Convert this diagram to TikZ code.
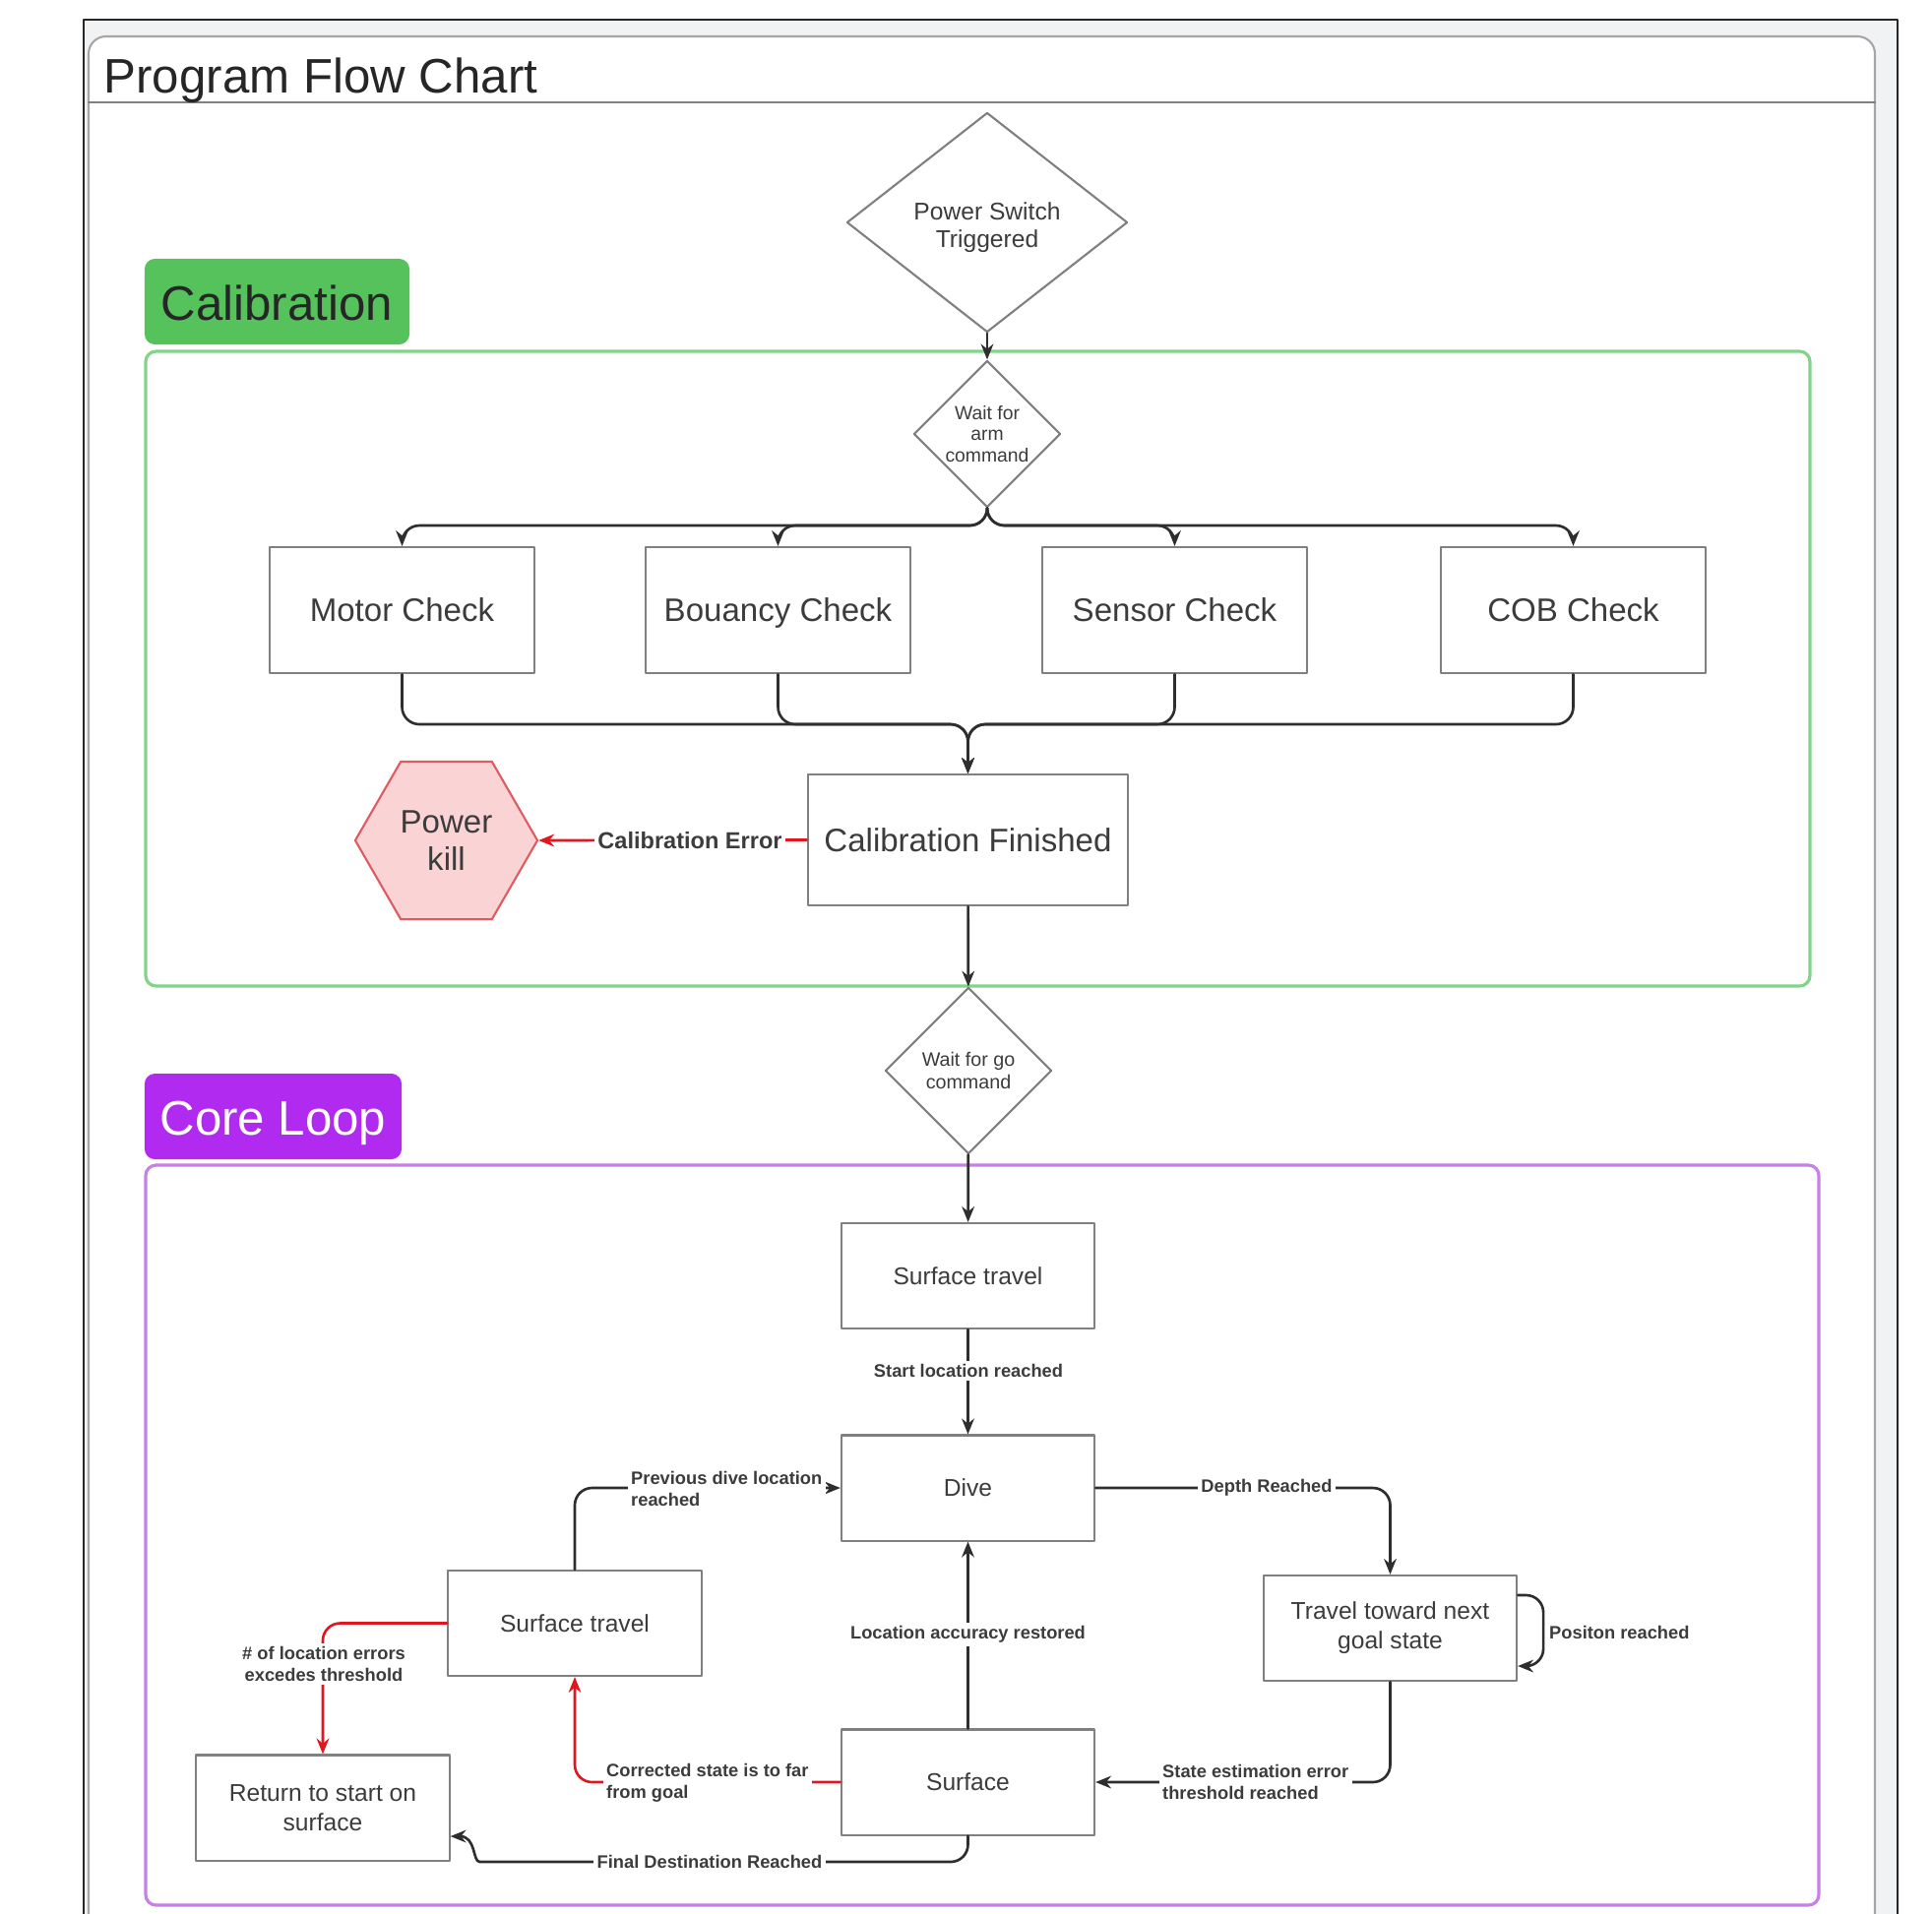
\documentclass[tikz,border=0pt]{standalone}
\usepackage{fontspec}
\setmainfont{Liberation Sans}
\usetikzlibrary{shapes.geometric,arrows.meta}
\definecolor{boxline}{HTML}{808080}
\definecolor{txtgray}{HTML}{3C3C3C}
\definecolor{linegray}{HTML}{2E2E2E}
\definecolor{calgreen}{HTML}{55C25C}
\definecolor{calline}{HTML}{82D488}
\definecolor{corepurple}{HTML}{B02AF0}
\definecolor{coreline}{HTML}{C680E6}
\definecolor{killfill}{HTML}{FAD3D5}
\definecolor{killline}{HTML}{E05A62}
\definecolor{errred}{HTML}{E3161F}
\definecolor{panelgray}{HTML}{F1F2F4}
\begin{document}
\begin{tikzpicture}[line cap=round,line join=round,>={Stealth[length=4.5pt,width=3.6pt]},x=0.01cm,y=-0.01cm,
		box/.style={rectangle,draw=boxline,line width=0.6pt,fill=white,text=txtgray,align=center,inner sep=1pt},
		calbox/.style={box,minimum width=2.69cm,minimum height=1.28cm,text height=8.8pt,text depth=2pt,font=\fontsize{9.4}{11}\selectfont},
		corebox/.style={box,minimum width=2.57cm,minimum height=1.07cm,font=\fontsize{7}{8.5}\selectfont},
		dia/.style={diamond,draw=boxline,line width=0.6pt,fill=white,text=txtgray,align=center,inner sep=0pt},
		tag/.style={rounded corners=3pt,inner sep=0pt,text height=14pt,text depth=3pt,font=\fontsize{14}{17}\selectfont},
		conn/.style={draw=linegray,line width=0.75pt,->,rounded corners=5pt},
		errconn/.style={conn,draw=errred},
		elabel/.style={fill=white,text=txtgray,inner sep=1pt,align=left,font=\fontsize{5.2}{6.2}\selectfont\bfseries}]
	\def\ySplit{534}
	\def\yMerge{736}
	\useasboundingbox (0,0) rectangle (1963,1944);
	\clip (0,0) rectangle (1963,1944);
	% Khung trang
	\fill[panelgray] (85,20) rectangle (1928,1990);
	\draw[black!85,line width=0.5pt] (85,1990) -- (85,20) -- (1928,20) -- (1928,1990);
	\draw[boxline!70,fill=white,line width=0.6pt,rounded corners=5pt] (90,2000) -- (90,37) -- (1905,37) -- (1905,2000);
	\draw[boxline,line width=0.6pt] (90,104) -- (1905,104);
	\node[anchor=west,inner sep=0pt,font=\fontsize{14}{17}\selectfont,text=black!85] (title) at (105,82) {Program Flow Chart};
	% Hai vùng nhóm và nhãn
	\draw[calline,line width=0.9pt,rounded corners=3pt] (148,357) rectangle (1839,1002);
	\draw[coreline,line width=0.9pt,rounded corners=3pt] (148,1184) rectangle (1848,1936);
	\node[tag,fill=calgreen,text=black!85,minimum width=2.69cm,minimum height=0.87cm] (calTag) at (281.5,306.5) {Calibration};
	\node[tag,fill=corepurple,text=white,minimum width=2.61cm,minimum height=0.87cm] (coreTag) at (277.5,1134.5) {Core Loop};
	% Calibration
	\node[dia,minimum width=2.85cm,minimum height=2.23cm,font=\fontsize{7}{7.9}\selectfont] (psw) at (1003,226) {\rule{0pt}{8pt}Power Switch\\Triggered};
	\node[dia,minimum width=1.49cm,minimum height=1.49cm,font=\fontsize{5.5}{6.2}\selectfont] (arm) at (1003,441) {Wait for\\arm\\command};
	\node[calbox] (motor) at (408.5,620) {Motor Check};
	\node[calbox] (buoy) at (790.5,620) {Bouancy Check};
	\node[calbox] (sensor) at (1193.5,620) {Sensor Check};
	\node[calbox] (cob) at (1598.5,620) {COB Check};
	\node[calbox,minimum width=3.25cm,minimum height=1.33cm] (calfin) at (983.5,853.5) {Calibration Finished};
	\node[regular polygon,regular polygon sides=6,minimum size=1.85cm,draw=killline,fill=killfill,line width=0.6pt,
		text=txtgray,align=center,inner sep=1pt,font=\fontsize{9.4}{11}\selectfont] (kill) at (453.5,854) {Power\\kill};
	\coordinate (splitY) at (0,\ySplit);
	\coordinate (mergeY) at (0,\yMerge);
	\coordinate (merge) at (calfin.north |- mergeY);
	\draw[conn] (psw) -- (arm);
	\foreach \b in {motor,buoy,sensor,cob} {
		\draw[conn] (arm.south) -- (arm.south |- splitY) -| (\b.north);
		\draw[conn] (\b.south) |- (merge) -- (calfin.north);
	}
	\draw[errconn] (calfin.west) -- (kill.east);
	\node[elabel,font=\fontsize{6.7}{8}\selectfont\bfseries] (lCalErr) at (701,854) {Calibration Error};
	% Core Loop
	\node[dia,minimum width=1.69cm,minimum height=1.69cm,font=\fontsize{5.6}{6.4}\selectfont] (go) at (984,1088) {Wait for go\\command};
	\node[corebox] (st1) at (983.5,1296.5) {Surface travel};
	\node[corebox] (dive) at (983.5,1512) {Dive};
	\node[corebox] (travel) at (1412.5,1654.5) {Travel toward next\\goal state};
	\node[corebox] (surf) at (983.5,1811) {Surface};
	\node[corebox] (st2) at (584,1649.5) {Surface travel};
	\node[corebox] (ret) at (328,1837) {Return to start on\\surface};
	\coordinate (finbend) at (505,1892);
	\draw[conn] (calfin) -- (go);
	\draw[conn] (go) -- (st1);
	\draw[conn] (st1) -- (dive);
	\draw[conn] (dive.east) -| (travel.north);
	\draw[conn] ([yshift=0.335cm]travel.east) -- ++(26,0) |- ([yshift=-0.385cm]travel.east);
	\draw[conn] (travel.south) |- (surf.east);
	\draw[conn] (surf) -- (dive);
	\draw[errconn] (surf.west) -| (st2.south);
	\draw[conn] (st2.north) |- (dive.west);
	\draw[errconn] (st2.west) -| (ret.north);
	\draw[conn] (surf.south) |- (finbend) .. controls (480,1892) and (484,1866) .. ([yshift=-0.29cm]ret.east);
	% Nhãn trên các đường nối
	\node[elabel] (lStart) at (984,1393) {Start location reached};
	\node[elabel] (lDepth) at (1287,1512) {Depth Reached};
	\node[elabel,fill=none,anchor=west] (lPos) at (1570,1659) {Positon reached};
	\node[elabel,anchor=west] (lState) at (1177,1811) {State estimation error\\threshold reached};
	\node[elabel] (lAcc) at (983.5,1661) {Location accuracy restored};
	\node[elabel,anchor=west] (lPrev) at (637,1513) {Previous dive location\\reached};
	\node[elabel,align=center] (lErr) at (329,1691) {\# of location errors\\excedes threshold};
	\node[elabel,anchor=west] (lCorr) at (612,1812) {Corrected state is to far\\from goal};
	\node[elabel] (lFinal) at (721,1892) {Final Destination Reached};
\end{tikzpicture}
\end{document}
